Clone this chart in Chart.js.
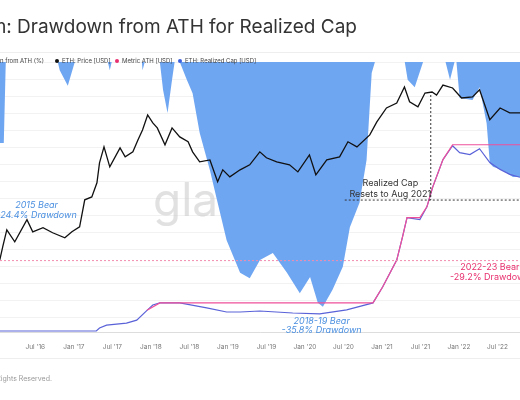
<!DOCTYPE html>
<html>
<head>
<meta charset="utf-8">
<script src="https://cdn.jsdelivr.net/npm/chart.js@4"></script>
<style>
  body { margin: 0; background: #fff; }
  canvas { display: block; }
</style>
</head>
<body>
<canvas id="myChart" width="520" height="400"></canvas>
<script>
// x values are months since Jan 2016
const tickMonths = [6, 12, 18, 24, 30, 36, 42, 48, 54, 60, 66, 72, 78];
const tickLabels = ["Jul '16", "Jan '17", "Jul '17", "Jan '18", "Jul '18", "Jan '19", "Jul '19",
    "Jan '20", "Jul '20", "Jan '21", "Jul '21", "Jan '22", "Jul '22"];

const ddMonths = [0.47, 1.09, 1.4, 9.5, 9.8, 11.06, 12.15, 17.3, 17.6, 17.9, 22.6, 22.7, 23.05, 25.4, 25.9, 26.6,
    27.3, 27.7, 28.5, 29.6, 30.5, 31.6, 33.2, 34.3, 35.8, 37.9, 39.4, 41.0, 43.0, 45.2, 47.2, 48.8, 50.0, 50.8,
    52.3, 53.9, 55.0, 56.5, 57.6, 58.4, 58.9, 63.55, 64.0, 65.1, 66.4, 69.9, 70.6, 71.3, 71.6, 72.1, 74.1, 75.2,
    76.3, 76.8, 77.3, 78.8, 80.4, 81.5];
const ddValues = [-11.9, -11.9, 0, 0, -1.2, -3.5, 0, 0, -1.2, 0, 0, -1.2, 0, 0, -4.1, -7.5,
    -2.6, 0, 0, -2.6, -4.6, -10.4, -15.9, -20.3, -26.2, -31, -31.8, -29.1, -28.1, -31, -34, -31.6, -35.4, -36,
    -33.5, -30.1, -24.3, -20.7, -14.4, -1.6, 0, 0, -2.6, -3.7, 0, 0, -2.6, 0, 0, -5.3, -5.6, -3.7,
    -9, -14.9, -15.4, -15.9, -16.9, -16.9];

const priceMonths = [0.47, 0.93, 1.56, 2.8, 4.7, 5.6, 7.2, 8.7, 10.6, 11.7, 12.9, 13.7, 14.8, 15.6, 16.0, 16.7,
    17.6, 19.2, 20.0, 21.2, 22.0, 22.7, 23.5, 24.3, 25.0, 26.2, 27.3, 28.5, 29.8, 30.5, 31.6, 33.2, 34.4, 35.2,
    36.3, 37.9, 39.4, 40.97, 42.0, 43.6, 45.6, 46.9, 48.7, 49.7, 51.4, 53.4, 54.7, 56.1, 58.1, 59.2, 60.7, 62.3,
    63.5, 64.3, 65.6, 66.7, 67.8, 68.5, 69.5, 71.0, 72.4, 74.1, 75.2, 76.8, 78.4, 79.9, 81.5];
const priceValues = [1.0, 1.88, 4.28, 2.39, 6.96, 3.88, 4.72, 3.7, 2.9, 3.9, 4.95, 18.3, 21.1, 41.8, 110, 239,
    90.6, 228, 147, 188, 336, 545, 1125, 765, 600, 264, 600, 388, 306, 188, 116, 127, 44, 78.5,
    55.8, 78.5, 100, 188, 141, 116, 100, 71, 162, 61.6, 127, 147, 306, 239, 428, 803, 1580, 2010,
    4380, 2130, 1665, 3260, 3420, 2960, 4800, 4170, 2560, 2700, 3830, 890, 1580, 1250, 1250];

const capMonths = [0.47, 15.5, 16.0, 17.1, 20.2, 21.8, 23.4, 24.3, 25.4, 28.5, 32.7, 35.8, 37.9, 40.97, 46.1,
    50.3, 54.5, 58.6, 60.1, 62.3, 63.2, 63.9, 65.9, 67.0, 67.9, 69.5, 71.0, 72.1, 73.7, 75.2, 76.8, 78.4, 79.9, 81.5];
const capValues = [1, 1, 4, 7, 9, 12, 22, 27.4, 29.5, 29.5, 24.4, 20.3, 20.3, 21.3, 19.3,
    18.3, 22.4, 29.5, 45.7, 73, 96.5, 116, 114, 127, 147, 175, 189, 182, 180, 186, 172, 165, 160, 157];

const athMonths = [23.4, 25.4, 58.6, 60.1, 62.3, 63.2, 63.9, 65.9, 67.0, 67.9, 69.5, 71.0, 81.5];
const athValues = [22, 29.5, 29.5, 45.7, 73, 96.5, 116, 116, 127, 147, 175, 190, 190];

function pts(xs, ys) {
    return xs.map((x, i) => ({ x: x, y: ys[i] }));
}

const overlay = {
    id: 'overlay',
    beforeDatasetsDraw(chart) {
        const ctx = chart.ctx;
        ctx.save();
        ctx.fillStyle = 'rgba(200,200,200,0.55)';
        ctx.font = '46px Inter';
        ctx.textBaseline = 'middle';
        ctx.fillText('gla', 153, 202);
        ctx.restore();
    },
    afterDatasetsDraw(chart) {
        const ctx = chart.ctx;
        const x = chart.scales.x, dd = chart.scales.dd, pr = chart.scales.price;
        const area = chart.chartArea;
        ctx.save();
        // 2022-23 drawdown level
        ctx.strokeStyle = '#f28bb0';
        ctx.lineWidth = 1;
        ctx.setLineDash([2, 2]);
        ctx.beginPath();
        ctx.moveTo(area.left, dd.getPixelForValue(-29.2));
        ctx.lineTo(area.right, dd.getPixelForValue(-29.2));
        ctx.stroke();
        // reset marker
        ctx.strokeStyle = '#333';
        ctx.beginPath();
        const vx = x.getPixelForValue(67.6);
        const hy = dd.getPixelForValue(-20.3);
        ctx.moveTo(vx, pr.getPixelForValue(2960));
        ctx.lineTo(vx, hy);
        ctx.moveTo(x.getPixelForValue(54.2), hy);
        ctx.lineTo(area.right, hy);
        ctx.stroke();
        ctx.setLineDash([]);

        ctx.textAlign = 'center';
        ctx.textBaseline = 'middle';
        ctx.font = '9px Inter';
        ctx.fillStyle = '#333';
        ctx.fillText('Realized Cap', x.getPixelForValue(61.3), dd.getPixelForValue(-17.9));
        ctx.fillText('Resets to Aug 2021', x.getPixelForValue(61.3), dd.getPixelForValue(-19.4));

        ctx.font = 'italic 9px Inter';
        ctx.fillStyle = '#4a8fe0';
        ctx.fillText('2015 Bear', x.getPixelForValue(6.2), dd.getPixelForValue(-21.1));
        ctx.fillText('-24.4% Drawdown', x.getPixelForValue(6.2), dd.getPixelForValue(-22.5));
        ctx.fillText('2018-19 Bear', x.getPixelForValue(50.6), dd.getPixelForValue(-38.1));
        ctx.fillText('-35.8% Drawdown', x.getPixelForValue(50.6), dd.getPixelForValue(-39.4));

        ctx.font = '9px Inter';
        ctx.fillStyle = '#e8306f';
        ctx.fillText('2022-23 Bear', x.getPixelForValue(76.8), dd.getPixelForValue(-30.2));
        ctx.fillText('-29.2% Drawdown', x.getPixelForValue(76.8), dd.getPixelForValue(-31.7));
        ctx.restore();
    },
    afterDraw(chart) {
        const ctx = chart.ctx;
        ctx.save();
        ctx.fillStyle = '#333';
        ctx.font = '19px Inter';
        ctx.textAlign = 'right';
        ctx.textBaseline = 'middle';
        ctx.fillText('Ethereum: Drawdown from ATH for Realized Cap', 357, 27);

        ctx.strokeStyle = '#eee';
        ctx.lineWidth = 1;
        ctx.beginPath();
        ctx.moveTo(0, 52.5); ctx.lineTo(520, 52.5);
        ctx.moveTo(0, 358.5); ctx.lineTo(520, 358.5);
        ctx.stroke();

        ctx.font = '6px Inter';
        ctx.fillStyle = '#444';
        ctx.fillText('Drawdown from ATH (%)', 44, 61);
        ctx.textAlign = 'left';
        const items = [[57, '#111', 'ETH: Price [USD]'], [117, '#e8306f', 'Metric ATH [USD]'], [180, '#3c5fdc', 'ETH: Realized Cap [USD]']];
        for (const [ix, col, txt] of items) {
            ctx.fillStyle = col;
            ctx.beginPath();
            ctx.arc(ix, 61, 2, 0, Math.PI * 2);
            ctx.fill();
            ctx.fillStyle = '#444';
            ctx.fillText(txt, ix + 5, 61);
        }
        ctx.fillStyle = '#999';
        ctx.font = '7px Inter';
        ctx.textAlign = 'right';
        ctx.fillText('© 2023 Glassnode. All Rights Reserved.', 52, 379);
        ctx.restore();
    }
};

window.onload = () => {
    const ctx = document.getElementById('myChart');
    window.chart = new Chart(ctx, {
        type: 'line',
        data: {
            datasets: [
                {
                    label: 'ETH: Price [USD]',
                    data: pts(priceMonths, priceValues),
                    yAxisID: 'price',
                    borderColor: '#111',
                    borderWidth: 1.3,
                    pointRadius: 0,
                    tension: 0
                },
                {
                    label: 'Metric ATH [USD]',
                    data: pts(athMonths, athValues),
                    yAxisID: 'cap',
                    borderColor: '#f0509a',
                    borderWidth: 1.2,
                    pointRadius: 0
                },
                {
                    label: 'ETH: Realized Cap [USD]',
                    data: pts(capMonths, capValues),
                    yAxisID: 'cap',
                    borderColor: '#5a62d8',
                    borderWidth: 1.2,
                    pointRadius: 0,
                    tension: 0
                },
                {
                    label: 'Drawdown from ATH (%)',
                    data: pts(ddMonths, ddValues),
                    yAxisID: 'dd',
                    borderColor: 'rgba(0,0,0,0)',
                    backgroundColor: '#6fa6f2',
                    borderWidth: 0,
                    pointRadius: 0,
                    fill: 'end'
                }
            ]
        },
        options: {
            responsive: false,
            animation: false,
            devicePixelRatio: 1,
            layout: { padding: { top: 62, bottom: 48, left: 0, right: 0 } },
            plugins: { legend: { display: false }, tooltip: { enabled: false } },
            scales: {
                x: {
                    type: 'linear',
                    min: 0.5,
                    max: 81.5,
                    afterBuildTicks: (s) => { s.ticks = tickMonths.map(v => ({ value: v })); },
                    afterFit: (s) => { s.height = 20; },
                    ticks: {
                        autoSkip: false,
                        maxRotation: 0,
                        color: '#777',
                        font: { family: 'Inter', size: 6.5 },
                        callback: (v) => tickLabels[tickMonths.indexOf(v)]
                    },
                    grid: { display: false },
                    border: { color: '#ddd' }
                },
                dd: {
                    position: 'left',
                    min: -39.7,
                    max: 0,
                    afterFit: (s) => { s.width = 0; },
                    ticks: { display: false, stepSize: 2.5 },
                    grid: { color: '#f2f2f2', drawTicks: false },
                    border: { display: false }
                },
                price: {
                    type: 'logarithmic',
                    display: false,
                    min: 0.03,
                    max: 14700
                },
                cap: {
                    display: false,
                    min: 0,
                    max: 274
                }
            }
        },
        plugins: [overlay]
    });
};
</script>
</body>
</html>
